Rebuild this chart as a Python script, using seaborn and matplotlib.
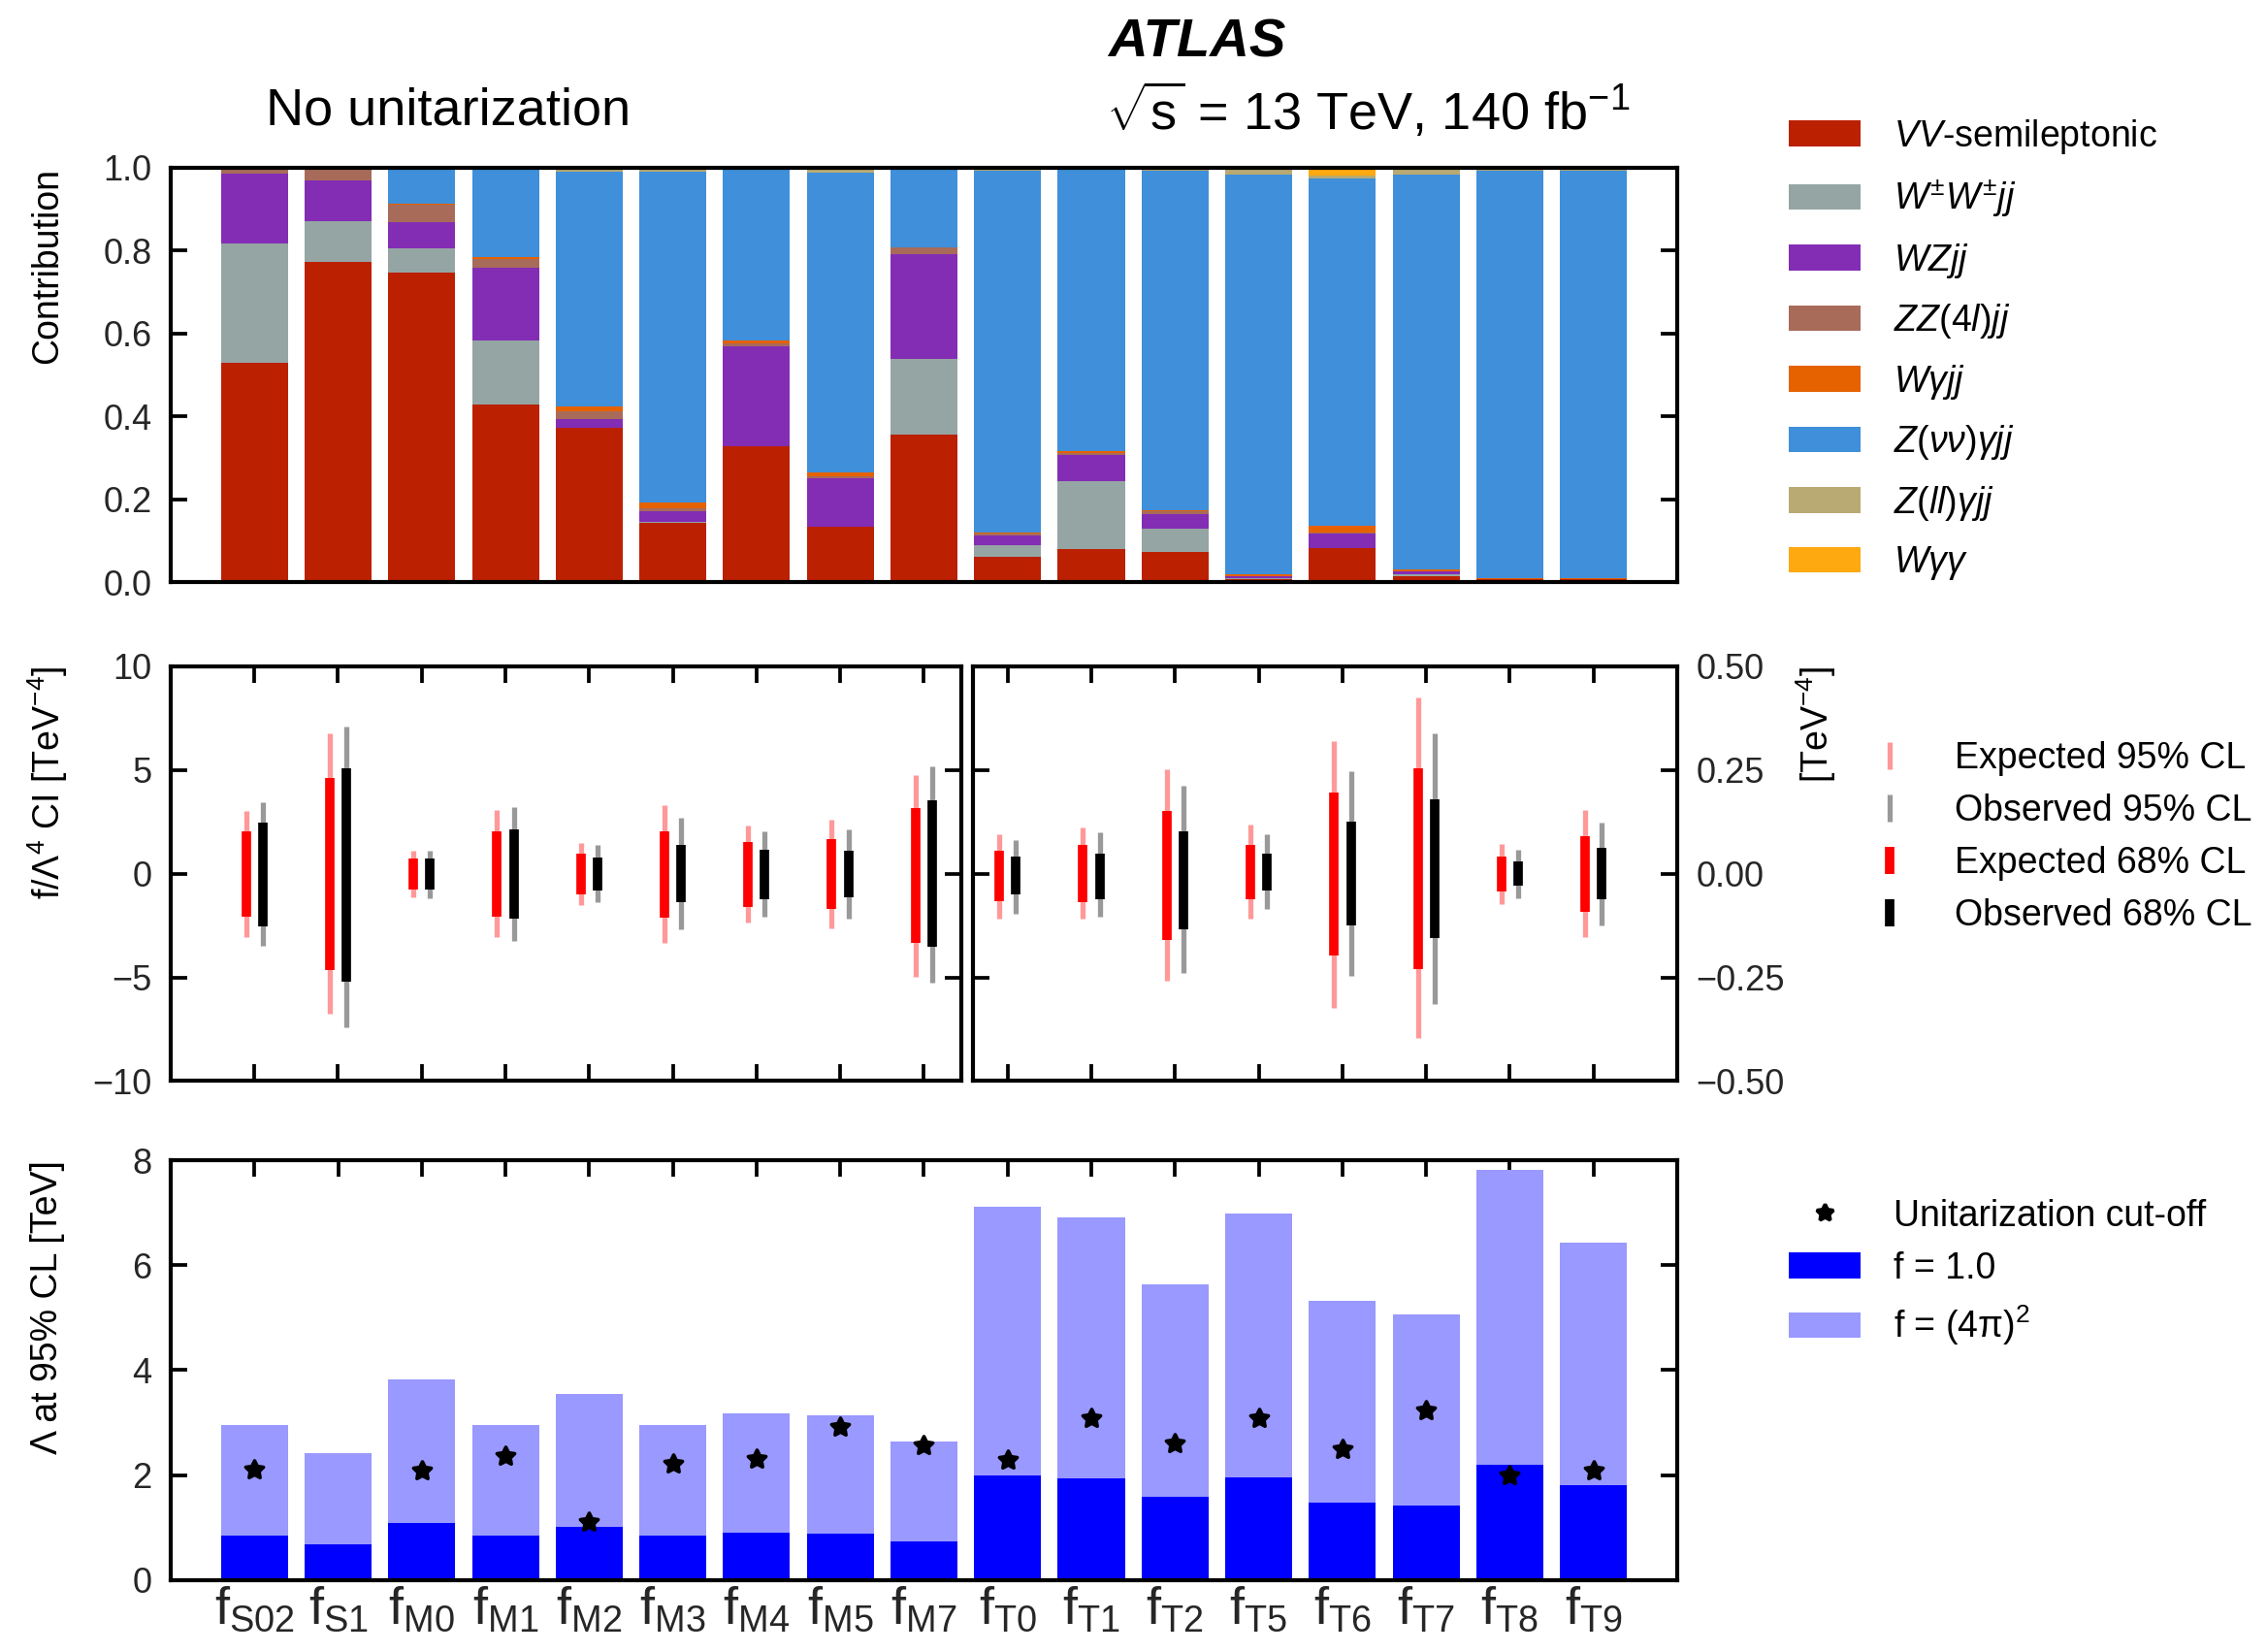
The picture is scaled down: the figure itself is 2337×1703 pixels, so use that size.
import numpy as np
import pandas as pd
import matplotlib
matplotlib.use("Agg")
import matplotlib.pyplot as plt
import seaborn as sns
from matplotlib.patches import Patch
from matplotlib.lines import Line2D

# ---------------------------------------------------------------- data
operators = ["S02", "S1", "M0", "M1", "M2", "M3", "M4", "M5", "M7",
             "T0", "T1", "T2", "T5", "T6", "T7", "T8", "T9"]

# fractional contribution of each analysis channel to the combined limit
vv_semilep = [0.530, 0.773, 0.747, 0.429, 0.373, 0.144, 0.329, 0.135, 0.357,
              0.061, 0.080, 0.073, 0.009, 0.084, 0.016, 0.009, 0.009]
wpmwpm_jj = [0.287, 0.098, 0.058, 0.154, 0.000, 0.002, 0.000, 0.000, 0.182,
             0.028, 0.164, 0.056, 0.002, 0.000, 0.003, 0.000, 0.000]
wz_jj = [0.168, 0.098, 0.063, 0.176, 0.021, 0.026, 0.240, 0.117, 0.252,
         0.024, 0.063, 0.036, 0.003, 0.034, 0.007, 0.000, 0.000]
zz4l_jj = [0.015, 0.031, 0.043, 0.021, 0.019, 0.007, 0.008, 0.003, 0.016,
           0.006, 0.005, 0.006, 0.002, 0.002, 0.001, 0.000, 0.000]
wgam_jj = [0.000, 0.000, 0.003, 0.004, 0.011, 0.014, 0.006, 0.010, 0.002,
           0.001, 0.004, 0.002, 0.004, 0.016, 0.004, 0.001, 0.001]
znunu_gam_jj = [0.000, 0.000, 0.086, 0.214, 0.567, 0.798, 0.414, 0.723, 0.191,
                0.872, 0.682, 0.819, 0.964, 0.837, 0.953, 0.982, 0.982]
zll_gam_jj = [0.000, 0.000, 0.000, 0.002, 0.009, 0.009, 0.003, 0.012, 0.000,
              0.008, 0.002, 0.008, 0.016, 0.009, 0.016, 0.008, 0.008]
w_gam_gam = [0.000, 0.000, 0.000, 0.000, 0.000, 0.000, 0.000, 0.000, 0.000,
             0.000, 0.000, 0.000, 0.000, 0.018, 0.000, 0.000, 0.000]

channel_labels = [r"$VV$-semileptonic", r"$W^{\pm}W^{\pm}jj$", r"$WZjj$",
                  r"$ZZ(4l)jj$", r"$W\gamma jj$", r"$Z(\nu\nu)\gamma jj$",
                  r"$Z(ll)\gamma jj$", r"$W\gamma\gamma$"]
channel_colors = ["#bb2000", "#95a5a3", "#832db5", "#a86b5a",
                  "#e66100", "#3f8fda", "#b8aa72", "#fda90f"]

# 95% / 68% CL intervals: S/M operators in units of the left axis,
# T operators in units of the right axis [TeV^-4]
exp95_lo = [-3.04, -6.77, -1.14, -3.06, -1.50, -3.34, -2.36, -2.64, -4.98,
            -0.108, -0.109, -0.258, -0.109, -0.324, -0.395, -0.073, -0.154]
exp95_hi = [3.04, 6.75, 1.09, 3.07, 1.47, 3.31, 2.32, 2.61, 4.76,
            0.095, 0.112, 0.252, 0.118, 0.320, 0.424, 0.072, 0.154]
obs95_lo = [-3.48, -7.39, -1.17, -3.26, -1.39, -2.70, -2.07, -2.17, -5.24,
            -0.096, -0.104, -0.240, -0.086, -0.246, -0.314, -0.059, -0.124]
obs95_hi = [3.45, 7.10, 1.12, 3.21, 1.37, 2.68, 2.04, 2.12, 5.16,
            0.082, 0.099, 0.212, 0.096, 0.247, 0.338, 0.057, 0.123]
exp68_lo = [-2.07, -4.65, -0.76, -2.06, -1.01, -2.11, -1.59, -1.68, -3.35,
            -0.066, -0.069, -0.161, -0.062, -0.197, -0.230, -0.042, -0.092]
exp68_hi = [2.06, 4.62, 0.72, 2.04, 0.97, 2.06, 1.54, 1.65, 3.17,
            0.056, 0.070, 0.151, 0.070, 0.196, 0.254, 0.041, 0.090]
obs68_lo = [-2.54, -5.19, -0.76, -2.17, -0.83, -1.37, -1.22, -1.14, -3.53,
            -0.051, -0.061, -0.135, -0.041, -0.125, -0.155, -0.030, -0.062]
obs68_hi = [2.48, 5.09, 0.72, 2.12, 0.76, 1.39, 1.17, 1.09, 3.53,
            0.041, 0.048, 0.101, 0.049, 0.126, 0.179, 0.029, 0.062]

# Lambda reach at 95% CL [TeV]
lambda_f1 = [0.84, 0.67, 1.08, 0.84, 1.01, 0.84, 0.89, 0.875, 0.74,
             1.99, 1.93, 1.58, 1.95, 1.48, 1.41, 2.19, 1.81]
lambda_f4pi2 = [2.96, 2.41, 3.83, 2.96, 3.55, 2.96, 3.18, 3.13, 2.64,
                7.12, 6.91, 5.64, 6.99, 5.32, 5.06, 7.83, 6.44]
unitarity_cutoff = [2.11, np.nan, 2.09, 2.36, 1.11, 2.21, 2.31, 2.91, 2.56,
                    2.29, 3.09, 2.60, 3.09, 2.49, 3.24, 1.99, 2.09]

n_sm = 9  # number of scalar + mixed operators (left interval panel)

# ---------------------------------------------------------------- style
sns.set_theme(style="ticks")
plt.rcParams["font.family"] = ["Liberation Sans", "DejaVu Sans"]
plt.rcParams["mathtext.fontset"] = "custom"
plt.rcParams["mathtext.rm"] = "Liberation Sans"
plt.rcParams["mathtext.it"] = "Liberation Sans:italic"
plt.rcParams["mathtext.bf"] = "Liberation Sans:bold"
plt.rcParams["text.color"] = "black"
plt.rcParams["axes.labelcolor"] = "black"

TICK_FS = 26
LAB_FS = 27
LEG_FS = 27

fig = plt.figure(figsize=(23.37, 17.03), dpi=100)
ax_top = fig.add_axes([0.0753, 0.6474, 0.6645, 0.2511])
ax_ml = fig.add_axes([0.0753, 0.3456, 0.4241 - 0.0753, 0.2511])
ax_mr = fig.add_axes([0.4292, 0.3456, 0.7398 - 0.4292, 0.2511])
ax_bot = fig.add_axes([0.0753, 0.0437, 0.6645, 0.2538])


def frame(ax):
    for s in ax.spines.values():
        s.set_linewidth(3.0)
        s.set_color("black")
        s.set_visible(True)
    ax.tick_params(axis="both", which="major", direction="in", length=12,
                   width=2.7, color="black", top=True, right=True,
                   labelsize=TICK_FS, pad=14)
    ax.tick_params(axis="x", pad=4)
    ax.minorticks_off()


# ---------------------------------------------------------------- top: contributions
contrib = pd.DataFrame({"op": operators})
channels = [vv_semilep, wpmwpm_jj, wz_jj, zz4l_jj, wgam_jj,
            znunu_gam_jj, zll_gam_jj, w_gam_gam]
cum = np.cumsum(np.array(channels), axis=0)
for k in range(len(channels) - 1, -1, -1):
    contrib["h"] = cum[k]
    sns.barplot(data=contrib, x="op", y="h", order=operators,
                color=channel_colors[k], saturation=1, width=0.8,
                edgecolor="none", linewidth=0, errorbar=None, ax=ax_top)
frame(ax_top)
ax_top.set_xlim(-1, 17)
ax_top.set_ylim(0, 1.0)
ax_top.set_yticks([0, 0.2, 0.4, 0.6, 0.8, 1.0])
ax_top.set_yticklabels(["0.0", "0.2", "0.4", "0.6", "0.8", "1.0"])
ax_top.set_xticks(range(len(operators)))
ax_top.set_xticklabels([])
ax_top.set_xlabel("")
ax_top.set_ylabel("")
ax_top.tick_params(labelright=False)

# ---------------------------------------------------------------- middle: intervals
x = np.arange(len(operators))
off = 0.1
for ax, sl in ((ax_ml, slice(0, n_sm)), (ax_mr, slice(n_sm, None))):
    xs = x[sl]
    ax.vlines(xs - off, np.array(exp95_lo)[sl], np.array(exp95_hi)[sl],
              color="#ff9999", lw=3.8, zorder=2)
    ax.vlines(xs + off, np.array(obs95_lo)[sl], np.array(obs95_hi)[sl],
              color="#999999", lw=3.8, zorder=2)
    ax.vlines(xs - off, np.array(exp68_lo)[sl], np.array(exp68_hi)[sl],
              color="#ff0000", lw=7.0, zorder=3)
    ax.vlines(xs + off, np.array(obs68_lo)[sl], np.array(obs68_hi)[sl],
              color="black", lw=7.0, zorder=3)
    frame(ax)
    ax.set_xticks(xs)
    ax.set_xticklabels([])

ax_ml.set_xlim(-1, 8.45)
ax_ml.set_ylim(-10, 10)
ax_ml.set_yticks([-10, -5, 0, 5, 10])
ax_ml.tick_params(labelright=False)

ax_mr.set_xlim(8.585, 17)
ax_mr.set_ylim(-0.5, 0.5)
ax_mr.set_yticks([-0.5, -0.25, 0, 0.25, 0.5])
ax_mr.set_yticklabels(["\u22120.50", "\u22120.25", "0.00", "0.25", "0.50"])
ax_mr.tick_params(labelleft=False, labelright=True, left=True, right=True)

# ---------------------------------------------------------------- bottom: Lambda reach
reach = pd.DataFrame({"op": operators, "f4pi2": lambda_f4pi2,
                      "f1": lambda_f1, "cut": unitarity_cutoff})
sns.barplot(data=reach, x="op", y="f4pi2", order=operators, color="#9999ff",
            saturation=1, width=0.8, edgecolor="none", linewidth=0,
            errorbar=None, ax=ax_bot)
sns.barplot(data=reach, x="op", y="f1", order=operators, color="#0000ff",
            saturation=1, width=0.8, edgecolor="none", linewidth=0,
            errorbar=None, ax=ax_bot)
star = (5, 1, 0)
sns.scatterplot(data=reach, x="op", y="cut", marker=star, s=190,
                color="black", edgecolor="black", linewidth=2.6, zorder=5,
                ax=ax_bot, legend=False)
frame(ax_bot)
ax_bot.set_xlim(-1, 17)
ax_bot.set_ylim(0, 8)
ax_bot.set_yticks([0, 2, 4, 6, 8])
ax_bot.set_xticks(range(len(operators)))
ax_bot.set_xticklabels([r"$\mathrm{f}_{\mathrm{%s}}$" % o for o in operators],
                       fontsize=39)
ax_bot.set_xlabel("")
ax_bot.set_ylabel("")
ax_bot.tick_params(labelright=False)

# ---------------------------------------------------------------- axis titles
fig.text(0.021, 0.8985, "Contribution", rotation=90, ha="center", va="top",
         fontsize=LAB_FS)
fig.text(0.021, 0.5967, r"f/$\Lambda^{4}$ CI [TeV$^{-4}$]", rotation=90,
         ha="center", va="top", fontsize=LAB_FS)
fig.text(0.021, 0.2975, "\u039b at 95% CL [TeV]", rotation=90, ha="center",
         va="top", fontsize=LAB_FS)
fig.text(0.801, 0.5967, r"[TeV$^{-4}$]", rotation=90, ha="center", va="top",
         fontsize=LAB_FS)

# ---------------------------------------------------------------- header
fig.text(0.528, 0.974, "ATLAS", ha="center", va="center", fontsize=40.5,
         fontweight="bold", fontstyle="italic")
fig.text(0.1977, 0.933, "No unitarization", ha="center", va="center",
         fontsize=39)
fig.text(0.488, 0.933, r"$\sqrt{\mathrm{s}}$ = 13 TeV, 140 fb$^{-1}$",
         ha="left", va="center", fontsize=39)

# ---------------------------------------------------------------- legends
h1 = [Patch(facecolor=c, edgecolor="none", label=l)
      for c, l in zip(channel_colors, channel_labels)]
fig.legend(handles=h1, loc="upper left", bbox_to_anchor=(0.789, 0.929),
           frameon=False, fontsize=LEG_FS, handlelength=1.97,
           handleheight=0.72, handletextpad=0.92, labelspacing=0.60,
           borderpad=0, borderaxespad=0)

h2 = [Line2D([], [], color="#ff9999", marker="|", ls="none", markersize=20,
             mew=3.8, label="Expected 95% CL"),
      Line2D([], [], color="#999999", marker="|", ls="none", markersize=20,
             mew=3.8, label="Observed 95% CL"),
      Line2D([], [], color="#ff0000", marker="|", ls="none", markersize=20,
             mew=7.0, label="Expected 68% CL"),
      Line2D([], [], color="black", marker="|", ls="none", markersize=20,
             mew=7.0, label="Observed 68% CL")]
fig.legend(handles=h2, loc="upper left", bbox_to_anchor=(0.8256, 0.5515),
           frameon=False, fontsize=LEG_FS, handlelength=1.0,
           handletextpad=1.28, labelspacing=0.48, borderpad=0,
           borderaxespad=0)

h3 = [Line2D([], [], color="black", marker=star, ls="none", markersize=13,
             mew=2.6, label="Unitarization cut-off"),
      Patch(facecolor="#0000ff", edgecolor="none", label="f = 1.0"),
      Patch(facecolor="#9999ff", edgecolor="none", label=r"f = (4π)$^{2}$")]
fig.legend(handles=h3, loc="upper left", bbox_to_anchor=(0.789, 0.2745),
           frameon=False, fontsize=LEG_FS, handlelength=1.97,
           handleheight=0.72, handletextpad=0.92, labelspacing=0.48,
           borderpad=0, borderaxespad=0)

fig.savefig("out.png", dpi=100)
